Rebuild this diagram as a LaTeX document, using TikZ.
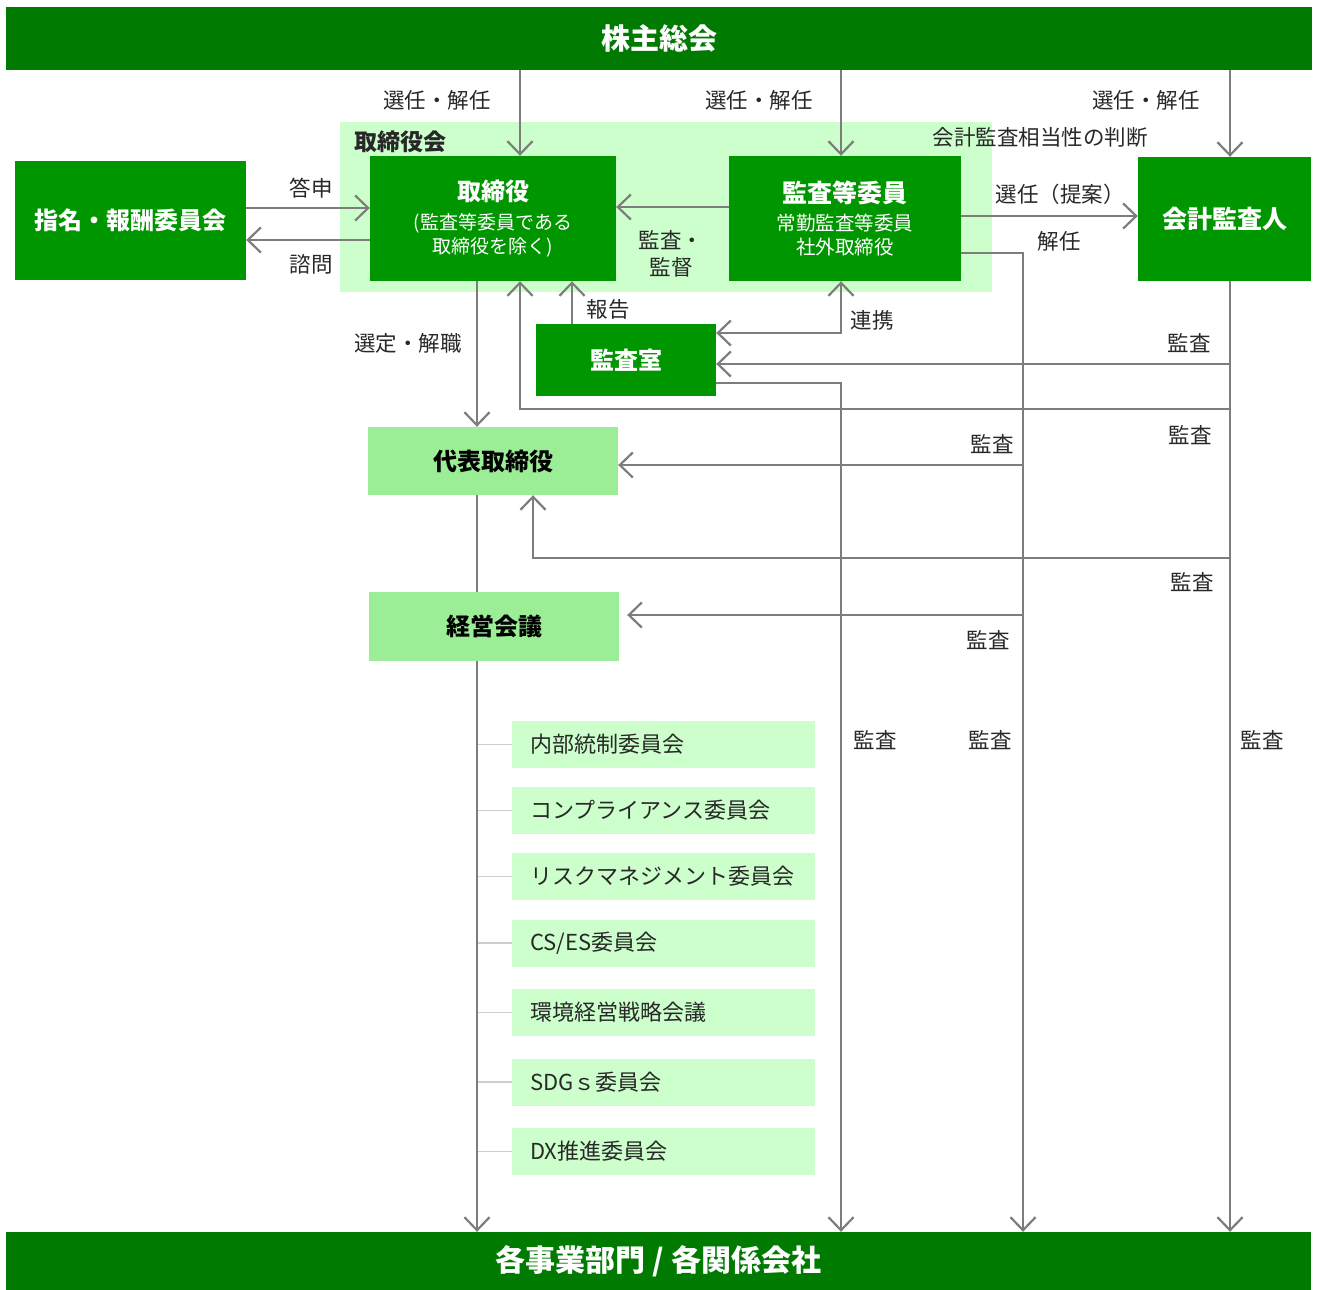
\documentclass[tikz,border=0pt]{standalone}
\usepackage{fontspec}
\setmainfont{Noto Sans CJK JP}
\usetikzlibrary{arrows.meta}
\definecolor{barg}{RGB}{0,122,0}
\definecolor{boxg}{RGB}{0,150,0}
\definecolor{midg}{RGB}{155,238,150}
\definecolor{paleg}{RGB}{204,255,204}
\definecolor{lineg}{RGB}{125,125,125}
\definecolor{brg}{RGB}{205,205,205}
\definecolor{txt}{RGB}{40,40,40}
\begin{document}
\begin{tikzpicture}[x=1pt,y=-1pt,
 barbox/.style={fill=barg, text=white, inner sep=0pt, font=\fontsize{29}{29}\selectfont\bfseries},
 dkbox/.style={fill=boxg, text=white, inner sep=0pt, align=center},
 mdbox/.style={fill=midg, text=black, inner sep=0pt, font=\fontsize{24}{24}\selectfont\bfseries},
 cmtbox/.style={fill=paleg, text=txt, inner xsep=18pt, inner ysep=0pt, text width=267pt, minimum height=47pt, align=left, font=\fontsize{22}{22}\selectfont},
 lab/.style={text=txt, inner sep=0pt, font=\fontsize{21.5}{27}\selectfont, align=center},
 conn/.style={draw=lineg, line width=2.2pt},
 arr/.style={conn, -{Straight Barb[length=13pt,width=25pt]}},
 arrb/.style={conn, {Straight Barb[length=13pt,width=25pt]}-{Straight Barb[length=13pt,width=25pt]}},
 branch/.style={draw=brg, line width=1.6pt}]
\fill[white] (0,0) rectangle (1317,1290);
\useasboundingbox (0,0) rectangle (1317,1290);

% x positions of vertical connectors
\coordinate (cA) at (520,0);
\coordinate (cB) at (841,0);
\coordinate (cC) at (1230,0);
\coordinate (cD) at (1023,0);
\coordinate (cE) at (477,0);
\coordinate (cF) at (572,0);
\coordinate (cG) at (533,0);
% y positions of horizontal connectors
\coordinate (y207) at (0,207);
\coordinate (y208) at (0,208);
\coordinate (y216) at (0,216);
\coordinate (y240) at (0,240);
\coordinate (y253) at (0,253);
\coordinate (y333) at (0,333);
\coordinate (y364) at (0,364);
\coordinate (y383) at (0,383);
\coordinate (y409) at (0,409);
\coordinate (y465) at (0,465);
\coordinate (y558) at (0,558);
\coordinate (y615) at (0,615);

% bars
\node[barbox, minimum width=1306pt, minimum height=63pt] (top) at (659,38.5) {株主総会};
\node[barbox, minimum width=1305pt, minimum height=58pt, font=\fontsize{30}{30}\selectfont\bfseries] (bot) at (658.5,1261) {各事業部門 / 各関係会社};

% board area
\node[fill=paleg, minimum width=652pt, minimum height=170pt, inner sep=0pt] (board) at (666,207) {};
\node[lab, font=\fontsize{23}{23}\selectfont\bfseries] (boardlab) at (400,142) {取締役会};

% main boxes
\node[dkbox, minimum width=231pt, minimum height=119pt, font=\fontsize{24}{24}\selectfont\bfseries] (nom) at (130.5,220) {指名・報酬委員会};
\node[dkbox, minimum width=246pt, minimum height=125pt, font=\fontsize{19}{24}\selectfont] (tori) at (493,218.5)
  {{\fontsize{24}{24}\selectfont\bfseries 取締役}\\[5pt](監査等委員である\\取締役を除く)};
\node[dkbox, minimum width=232pt, minimum height=125pt, font=\fontsize{19.5}{24}\selectfont] (kansa) at (845,218.5)
  {{\fontsize{25}{25}\selectfont\bfseries 監査等委員}\\[4pt]常勤監査等委員\\社外取締役};
\node[dkbox, minimum width=173pt, minimum height=124pt, font=\fontsize{25}{25}\selectfont\bfseries] (kaikei) at (1224.5,219) {会計監査人};
\node[dkbox, minimum width=180pt, minimum height=72pt, font=\fontsize{24}{24}\selectfont\bfseries] (shitsu) at (626,360) {監査室};
\node[mdbox, minimum width=250pt, minimum height=68pt] (daihyo) at (493,461) {代表取締役};
\node[mdbox, minimum width=250pt, minimum height=69pt] (keiei) at (494,626.5) {経営会議};

% committees
\node[cmtbox] (cm1) at (663.5,744.5) {内部統制委員会};
\node[cmtbox] (cm2) at (663.5,810.5) {コンプライアンス委員会};
\node[cmtbox] (cm3) at (663.5,876.5) {リスクマネジメント委員会};
\node[cmtbox] (cm4) at (663.5,943) {CS/ES委員会};
\node[cmtbox] (cm5) at (663.5,1012.5) {環境経営戦略会議};
\node[cmtbox] (cm6) at (663.5,1082) {SDGｓ委員会};
\node[cmtbox] (cm7) at (663.5,1151.5) {DX推進委員会};

% committee branches
\foreach \c in {cm1,cm2,cm3,cm4,cm5,cm6,cm7}
  \draw[branch] (cE |- \c.west) -- (\c.west);

% shareholders' meeting
\draw[arr] (top.south -| cA) -- (tori.north -| cA);
\draw[arr] (top.south -| cB) -- (kansa.north -| cB);
\draw[arr] (top.south -| cC) -- (kaikei.north -| cC);

% nomination committee
\draw[arr] (nom.east |- y208) -- (tori.west |- y208);
\draw[arr] (tori.west |- y240) -- (nom.east |- y240);

% audit committee
\draw[arr] (kansa.west |- y207) -- (tori.east |- y207);
\draw[arr] (kansa.east |- y216) -- (kaikei.west |- y216);
\draw[arrb] (shitsu.east |- y333) -| (kansa.south -| cB);
\draw[arr] (kansa.east |- y253) -| (bot.north -| cD);
\draw[arr] (cD |- y465) -- (daihyo.east |- y465);
\draw[arr, shorten >=8pt] (cD |- y615) -- (keiei.east |- y615);

% accounting auditor
\draw[arr] (kaikei.south -| cC) -- (bot.north -| cC);
\draw[arr] (cC |- y364) -- (shitsu.east |- y364);
\draw[arr] (cC |- y409) -| (tori.south -| cA);
\draw[arr] (cC |- y558) -| (daihyo.south -| cG);

% audit office
\draw[arr] (shitsu.north -| cF) -- (tori.south -| cF);
\draw[arr] (shitsu.east |- y383) -| (bot.north -| cB);

% executive chain
\draw[arr] (tori.south -| cE) -- (daihyo.north -| cE);
\draw[conn] (daihyo.south -| cE) -- (keiei.north -| cE);
\draw[arr] (keiei.south -| cE) -- (bot.north -| cE);

% labels
\node[lab] (l1) at (437,100) {選任・解任};
\node[lab] (l2) at (759,100) {選任・解任};
\node[lab] (l3) at (1146,100) {選任・解任};
\node[lab] (l4) at (1040,137) {会計監査相当性の判断};
\node[lab] (l5) at (311,188) {答申};
\node[lab] (l6) at (311,264) {諮問};
\node[lab] (l7) at (671,254) {監査・\\監督};
\node[lab] (l8) at (1060,194) {選任（提案）};
\node[lab] (l9) at (1059,241) {解任};
\node[lab] (l10) at (608,309) {報告};
\node[lab] (l11) at (872,320) {連携};
\node[lab] (l12) at (408,343) {選定・解職};
\node[lab] (l13) at (1189,343) {監査};
\node[lab] (l14) at (1190,435) {監査};
\node[lab] (l15) at (992,444) {監査};
\node[lab] (l16) at (1192,582) {監査};
\node[lab] (l17) at (988,640) {監査};
\node[lab] (l18) at (875,740) {監査};
\node[lab] (l19) at (990,740) {監査};
\node[lab] (l20) at (1262,740) {監査};
\end{tikzpicture}
\end{document}
